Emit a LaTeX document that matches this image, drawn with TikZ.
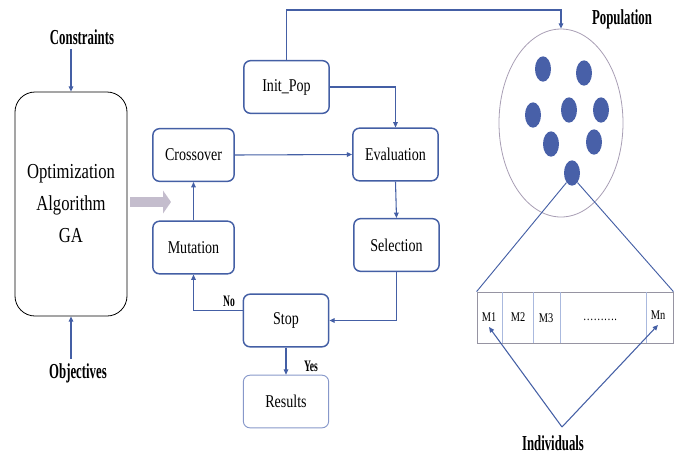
\documentclass[tikz,border=0pt]{standalone}
\usepackage{fontspec}
\setmainfont{Liberation Serif}
\newfontfamily\condfont[FakeStretch=0.78]{Liberation Serif}
\newfontfamily\narrowfont[FakeStretch=0.6]{Liberation Serif}
\usetikzlibrary{arrows.meta,shapes.geometric}
\definecolor{boxblue}{RGB}{68,95,165}
\definecolor{lightblue}{RGB}{135,152,202}
\definecolor{cellblue}{RGB}{170,185,222}
\definecolor{dotblue}{RGB}{72,96,168}
\definecolor{ellgray}{RGB}{168,158,180}
\definecolor{arrgray}{RGB}{196,189,205}
\definecolor{cellgray}{RGB}{150,148,162}
\tikzset{
  stepbox/.style={draw=boxblue,line width=1.1pt,rounded corners=5pt,minimum width=64pt,minimum height=39.5pt,inner sep=0pt,font=\condfont\fontsize{13.5}{16}\selectfont},
  conn/.style={draw=boxblue,line width=0.8pt,-{Triangle[length=4pt,width=3.5pt]}},
  tag/.style={font=\narrowfont\bfseries\fontsize{16}{18}\selectfont},
  yesno/.style={font=\narrowfont\bfseries\fontsize{12}{14}\selectfont},
  cell/.style={font=\condfont\fontsize{10}{12}\selectfont,inner sep=1pt},
  dot/.style={ellipse,fill=dotblue,minimum width=12pt,minimum height=19pt,inner sep=0pt}
}
\begin{document}
\begin{tikzpicture}[x=0.75pt,y=-0.75pt]
\useasboundingbox (0,0) rectangle (683,455);

% left block
\node[draw,line width=0.6pt,rounded corners=15pt,minimum width=84pt,minimum height=168pt,align=center,font=\condfont\fontsize{16}{24}\selectfont] (algo) at (71,204) {Optimization\\Algorithm\\GA};
\node[tag] (cons) at (82,37) {Constraints};
\node[tag] (obj) at (78,373) {Objectives};
\draw[conn] (cons.south -| algo.north) -- (algo.north);
\draw[conn] (obj.north -| algo.south) -- (algo.south);
\coordinate (gap) at (171,202);
\draw[arrgray,line width=8pt,-{Triangle[length=6pt,width=17pt]}] (algo.east |- gap) ++(3,0) -- (gap);

% GA loop
\node[stepbox] (initpop) at (286.5,87) {Init\_Pop};
\node[stepbox,minimum width=61pt] (cross) at (193.5,155) {Crossover};
\node[stepbox] (eval) at (395.5,154.5) {Evaluation};
\node[stepbox,minimum width=61pt] (mut) at (193.5,247.5) {Mutation};
\node[stepbox] (sel) at (396.5,245) {Selection};
\node[stepbox] (stop) at (286,320.5) {Stop};
\node[stepbox,draw=lightblue,line width=0.7pt] (res) at (286,401.5) {Results};

\draw[conn] (initpop.east) -| (eval.north);
\draw[conn] (cross.east) -- (eval.west);
\draw[conn] (eval.south) -- (sel.north);
\draw[conn] (sel.south) |- (stop.east);
\draw[conn] ([yshift=7.5pt]stop.west) -| (mut.south);
\draw[conn] (mut.north) -- (cross.south);
\draw[conn] (stop.south) -- (res.north);
\node[yesno] (no) at (229,301) {No};
\node[yesno] (yes) at (311,366) {Yes};

% population
\node[ellipse,draw=ellgray,line width=0.6pt,minimum width=93pt,minimum height=141pt] (pop) at (561,123) {};
\node[tag] (popl) at (622,19) {Population};
\draw[conn] (initpop.north) -- (initpop.north |- 0,10) -| (pop.north);
\foreach \x/\y [count=\i] in {543/69,584/73,533/115,569/110,601/110,551/144,594/142,572/173}
  \node[dot] (d\i) at (\x,\y) {};

% individuals
\node[draw=cellgray,line width=0.6pt,minimum width=147pt,minimum height=38.25pt,inner sep=0pt] (ind) at (575,317.5) {};
\foreach \x in {502,533,560,646}
  \draw[cellblue,line width=0.6pt] (\x,292) -- (\x,343);
\draw[boxblue,line width=0.7pt] (d8.240) -- (ind.north west);
\draw[boxblue,line width=0.7pt] (d8.300) -- (ind.north east);
\node[cell] (m1) at (489,317) {M1};
\node[cell] (m2) at (518,317) {M2};
\node[cell] (m3) at (546,318) {M3};
\node[cell] (mdots) at (600,320) {……….};
\node[cell] (mn) at (658,315) {Mn};
\node[tag] (indl) at (553,443) {Individuals};
\coordinate (fork) at (562,427);
\draw[conn] (fork) -- ([yshift=-3pt]m1.south);
\draw[conn] (fork) -- ([yshift=-3pt]mn.south);
\end{tikzpicture}
\end{document}
